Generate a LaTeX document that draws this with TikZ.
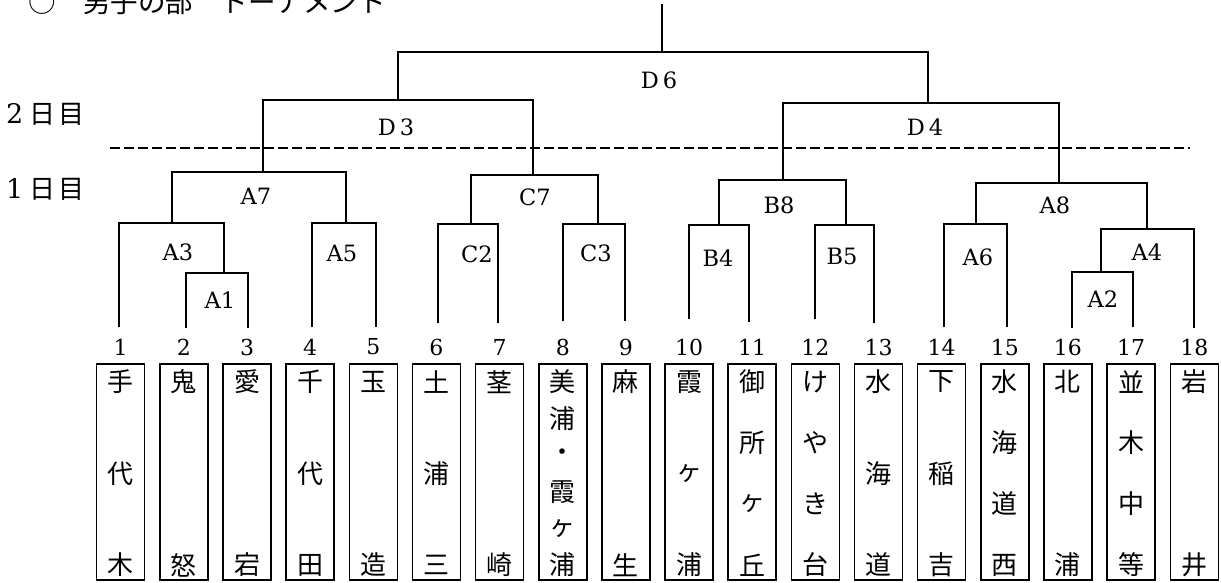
\documentclass[tikz,border=0pt]{standalone}
\usepackage{fontspec}
\newfontfamily\jp{Noto Sans CJK JP}
\newfontfamily\lat{DejaVu Serif}
\usetikzlibrary{calc}
\tikzset{
  bracket/.style={line width=1.6pt, line join=miter},
  teambox/.style={draw, line width=1.5pt, minimum width=48pt, minimum height=216pt, inner sep=0pt},
  namechar/.style={font=\jp\fontsize{26}{30}\selectfont, inner sep=0pt},
  numlab/.style={font=\lat\fontsize{22}{26}\selectfont, inner sep=0pt},
  matchlab/.style={font=\lat\fontsize{22.5}{28}\selectfont, inner sep=0pt},
  daylab/.style={font=\lat\fontsize{27}{30}\selectfont, inner sep=0pt, anchor=base west},
  daysep/.style={dash pattern=on 10pt off 4pt, line width=1.3pt}
}
\newcommand\teamname[3]{%
  \foreach \c [count=\k] in {#3}{%
    \node[namechar] (t#1-\k) at ({120.7+(#1-1)*63.15},{382+(\k-1)*183/(#2-1)}) {\c};}}
\begin{document}
\begin{tikzpicture}[x=1pt,y=-1pt]
\useasboundingbox (0,0) rectangle (1221,583);
% title
\node[anchor=base west, font=\jp\fontsize{27.5}{30}\selectfont, inner sep=0pt] (title) at (28,13) {○　男子の部　トーナメント};
% day labels
\node[daylab] (day2) at (6,124) {2\hspace{6.5pt}{\jp\fontsize{26}{30}\selectfont 日\hspace{2.5pt}目}};
\node[daylab] (day1) at (6,198) {1\hspace{6.5pt}{\jp\fontsize{26}{30}\selectfont 日\hspace{2.5pt}目}};
\coordinate (dl) at (110,148);
\coordinate (dr) at (1190,148);
\draw[daysep] (dl) -- (dr);
% boxes and numbers
\foreach \i in {1,...,18}{
  \node[teambox] (b\i) at ({120.7+(\i-1)*63.15},472) {};
  \node[numlab] (n\i) at ({120.7+(\i-1)*63.15},347) {\i};
}
\teamname{1}{3}{手,代,木}
\teamname{2}{2}{鬼,怒}
\teamname{3}{2}{愛,宕}
\teamname{4}{3}{千,代,田}
\teamname{5}{2}{玉,造}
\teamname{6}{3}{土,浦,三}
\teamname{7}{2}{茎,崎}
\teamname{8}{6}{美,浦,・,霞,ヶ,浦}
\teamname{9}{2}{麻,生}
\teamname{10}{3}{霞,ヶ,浦}
\teamname{11}{4}{御,所,ヶ,丘}
\teamname{12}{4}{け,や,き,台}
\teamname{13}{3}{水,海,道}
\teamname{14}{3}{下,稲,吉}
\teamname{15}{4}{水,海,道,西}
\teamname{16}{2}{北,浦}
\teamname{17}{4}{並,木,中,等}
\teamname{18}{2}{岩,井}
% leaf tops
\coordinate (l1) at (119,327);
\coordinate (l2) at (186,328);
\coordinate (l3) at (248,328);
\coordinate (l4) at (312,327);
\coordinate (l5) at (376,327);
\coordinate (l6) at (438,323);
\coordinate (l7) at (498,323);
\coordinate (l8) at (563,321);
\coordinate (l9) at (625,321);
\coordinate (l10) at (689,319);
\coordinate (l11) at (749,322);
\coordinate (l12) at (815,319);
\coordinate (l13) at (874,323);
\coordinate (l14) at (944,327);
\coordinate (l15) at (1007,327);
\coordinate (l16) at (1072,328);
\coordinate (l17) at (1133,327);
\coordinate (l18) at (1194,328);
% match junctions
\coordinate (A1) at (224,273);
\coordinate (A3) at (172,223);
\coordinate (A5) at (346,223);
\coordinate (A7) at (263,172);
\coordinate (C2) at (471,224);
\coordinate (C3) at (598,224);
\coordinate (C7) at (533,175);
\coordinate (D3) at (398,100);
\coordinate (B4) at (719,225);
\coordinate (B5) at (846,225);
\coordinate (B8) at (783,180);
\coordinate (A6) at (976,224);
\coordinate (A2) at (1101,272);
\coordinate (A4) at (1147,229);
\coordinate (A8) at (1059,183);
\coordinate (D4) at (928,103);
\coordinate (D6) at (662,52);
\coordinate (top) at (662,4);
% brackets
\draw[bracket] (l2) |- (A1) -| (l3);
\draw[bracket] (l1) |- (A3) -| (A1);
\draw[bracket] (l4) |- (A5) -| (l5);
\draw[bracket] (A3) |- (A7) -| (A5);
\draw[bracket] (l6) |- (C2) -| (l7);
\draw[bracket] (l8) |- (C3) -| (l9);
\draw[bracket] (C2) |- (C7) -| (C3);
\draw[bracket] (A7) |- (D3) -| (C7);
\draw[bracket] (l10) |- (B4) -| (l11);
\draw[bracket] (l12) |- (B5) -| (l13);
\draw[bracket] (B4) |- (B8) -| (B5);
\draw[bracket] (l14) |- (A6) -| (l15);
\draw[bracket] (l16) |- (A2) -| (l17);
\draw[bracket] (A2) |- (A4) -| (l18);
\draw[bracket] (A6) |- (A8) -| (A4);
\draw[bracket] (B8) |- (D4) -| (A8);
\draw[bracket] (D3) |- (D6) -| (D4);
\draw[bracket] (D6) -- (top);
% match labels
\node[matchlab] (lD6) at (659,80) {D\kern4pt 6};
\node[matchlab] (lD3) at (396,127) {D\kern4pt 3};
\node[matchlab] (lD4) at (925,127) {D\kern4pt 4};
\node[matchlab] (lA7) at (256,196) {A7};
\node[matchlab] (lC7) at (535,197) {C7};
\node[matchlab] (lB8) at (779,205) {B8};
\node[matchlab] (lA8) at (1055,205) {A8};
\node[matchlab] (lA3) at (178,252) {A3};
\node[matchlab] (lA5) at (342,253) {A5};
\node[matchlab] (lC2) at (477,254) {C2};
\node[matchlab] (lC3) at (596,253) {C3};
\node[matchlab] (lB4) at (718,258) {B4};
\node[matchlab] (lB5) at (842,256) {B5};
\node[matchlab] (lA6) at (978,257) {A6};
\node[matchlab] (lA4) at (1147,252) {A4};
\node[matchlab] (lA1) at (220,300) {A1};
\node[matchlab] (lA2) at (1103,299) {A2};
\end{tikzpicture}
\end{document}
